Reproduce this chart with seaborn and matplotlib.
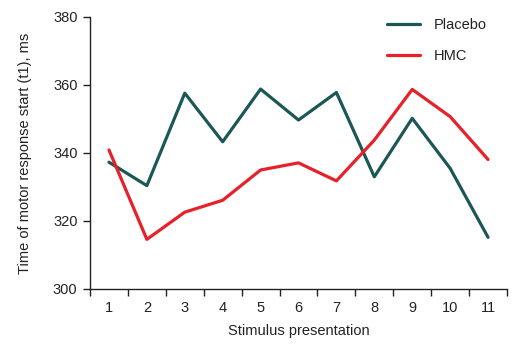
import numpy as np
import pandas as pd
import matplotlib
matplotlib.use("Agg")
import matplotlib.pyplot as plt
import seaborn as sns

# Stimulus presentation index and mean motor response start time (t1), ms
stimulus = [1, 2, 3, 4, 5, 6, 7, 8, 9, 10, 11]
placebo = [337.3, 330.4, 357.6, 343.3, 358.8, 349.7, 357.8, 333.0, 350.2, 335.5, 315.2]
hmc = [340.9, 314.6, 322.6, 326.1, 335.0, 337.1, 331.8, 343.8, 358.7, 350.7, 338.1]
groups = ["Placebo", "HMC"]
y_ticks = [300, 320, 340, 360, 380]

df = pd.DataFrame({
    "Stimulus": stimulus * 2,
    "t1": placebo + hmc,
    "Group": [groups[0]] * len(stimulus) + [groups[1]] * len(stimulus),
})

sns.set_style("ticks")
plt.rcParams["font.family"] = ["Liberation Sans", "DejaVu Sans"]
plt.rcParams["text.color"] = "#222222"

fig = plt.figure(figsize=(5.15, 3.45), dpi=100)
ax = fig.add_axes([90 / 515, 56 / 345, 417 / 515, 272 / 345])

palette = {"Placebo": "#1b5855", "HMC": "#e8202a"}
sns.lineplot(data=df, x="Stimulus", y="t1", hue="Group", palette=palette,
             linewidth=2.3, ax=ax, legend=True)

ax.set_xlim(0.5, 11.5)
ax.set_ylim(300, 380)
ax.set_yticks(y_ticks)
ax.set_xticks(stimulus)
ax.set_xticks(np.arange(0.5, 12, 1), minor=True)
ax.tick_params(axis="x", which="major", length=0, pad=9, labelsize=10.5, colors="#222222")
ax.tick_params(axis="x", which="minor", length=5, width=1, color="#222222", direction="out")
ax.tick_params(axis="y", length=5, width=1, color="#222222", labelsize=10.5,
               labelcolor="#222222", pad=4)
for s in ["top", "right"]:
    ax.spines[s].set_visible(False)
for s in ["left", "bottom"]:
    ax.spines[s].set_linewidth(1.0)
    ax.spines[s].set_color("#222222")

ax.set_xlabel("Stimulus presentation", fontsize=10.5, labelpad=6, color="#222222")
ax.set_ylabel("Time of motor response start (t1), ms", fontsize=10.5, labelpad=15,
              color="#222222")

leg = ax.legend(loc="upper left", bbox_to_anchor=(0.68, 1.045), frameon=False,
                fontsize=10.5, handlelength=2.3, handletextpad=0.9, labelspacing=1.15)
for line in leg.get_lines():
    line.set_linewidth(2.3)

fig.savefig("out.png", dpi=100)
